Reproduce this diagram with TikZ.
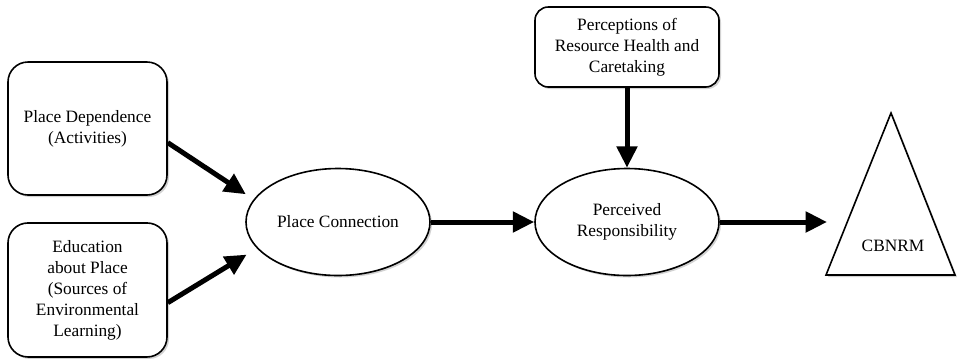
\documentclass[tikz,border=0pt]{standalone}
\usepackage{fontspec}
\setmainfont{Liberation Serif}
\usetikzlibrary{shapes,arrows.meta,shadows}

\begin{document}
\begin{tikzpicture}[x=0.75pt,y=-0.75pt,->,>={Triangle[length=16pt,width=15pt]},line width=3.75pt,
  soft shadow/.style={drop shadow={shadow xshift=1.5pt,shadow yshift=-1.5pt,opacity=0.25,fill=black!70}},
  box node/.style={rectangle,rounded corners=15pt,draw,fill=white,line width=1.2pt,align=center,
    soft shadow,font=\fontsize{13}{15.75}\selectfont},
  oval node/.style={ellipse,draw,fill=white,line width=1.2pt,align=center,inner sep=1pt,
    minimum width=138pt,minimum height=80.25pt,soft shadow,font=\fontsize{13}{15.75}\selectfont}]

  \useasboundingbox (0,0) rectangle (957,362);

  \node[oval node] (pc) at (338,222) {Place Connection};
  \node[oval node] (pr) [right of=pc, node distance=216.75pt] {Perceived\\Responsibility};
  \node[box node, rounded corners=10pt, minimum width=138pt, minimum height=60pt] (pp)
    [above of=pr, node distance=131.25pt] {Perceptions of\\Resource Health and\\Caretaking};

  \node[box node, minimum width=119.25pt, minimum height=99.75pt] (pd) at (87.5,128.5)
    {Place Dependence\\(Activities)};
  \node[box node, minimum width=119.25pt, minimum height=100.5pt] (ed)
    [below of=pd, node distance=121.1pt] {Education\\about Place\\(Sources of\\Environmental\\Learning)};

  % CBNRM triangle
  \draw[-,line width=1.2pt,fill=white,soft shadow] (891,113) -- (955,275) -- (826,275) -- cycle;
  \node[font=\fontsize{13}{15.75}\selectfont] (cb) at (893,246) {CBNRM};
  \coordinate (cbin) at (827,222);

  \path
    (pd.-10) edge[shorten >=7pt] (pc.165)
    (ed.-9) edge[shorten >=9pt] (pc.198)
    (pc) edge (pr)
    (pp) edge (pr)
    (pr) edge (cbin);
\end{tikzpicture}
\end{document}
